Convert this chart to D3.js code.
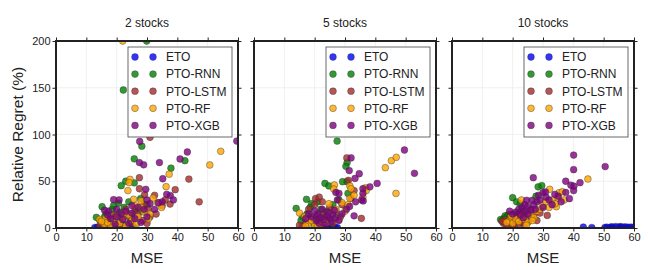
<!DOCTYPE html>
<html>
<head>
<meta charset="utf-8">
<script src="https://cdn.jsdelivr.net/npm/d3@7"></script>
<style>
    body { margin: 0; background: #fff; }
    svg text { font-family: Arial, "Liberation Sans", sans-serif; }
</style>
</head>
<body>
<div id="chart"></div>
<script>
(function( w ) {

"use strict";

/* ---- data: [MSE, relative regret %] ---- */
var seriesNames = [ "ETO", "PTO-RNN", "PTO-LSTM", "PTO-RF", "PTO-XGB" ],
    panelTitles = [ "2 stocks", "5 stocks", "10 stocks" ],
    xTicks = [ 0, 10, 20, 30, 40, 50, 60 ],
    yTicks = [ 0, 50, 100, 150, 200 ],

    eto2  = [[12.8,0.5],[13.6,0.8],[14.4,0.3],[15.2,0.6],[20.5,0.6],[21.2,0.4],[22,0.8],[22.7,0.5],[23.4,0.6],[24.1,0.3],[24.8,0.7],[25.4,0.5],[25.9,0.4]],
    rnn2  = [[29.9,200],[22.2,147.6],[28.3,87.5],[25.8,74],[42.5,72],[37.9,64],[23,50],[21.5,45.3],[25.8,48.3],[27.9,31.5],[20.6,26.5],[15.2,22.8],[13.3,11.4],[18.5,20],[16.5,15],[19.5,12],[21,17],[22.5,22],[24,28],[17,9],[14.5,8],[23.5,14],[26.5,20],[20,8],[18,5],[25,11],[28.5,18],[22,4],[16,12],[19,24],[24.5,6],[30,25]],
    lstm2 = [[31,97],[27.5,53.8],[43.8,52.3],[47.2,28],[39.3,41],[37.6,25.6],[27.5,42],[29.2,35.6],[30.4,20],[32.5,35],[36,30],[33,15],[28.5,8],[25,5],[22,3],[20,2],[18,6],[16,3],[24,12],[26,18],[21,10],[29,25],[31,12],[19,14],[23,20],[27,14],[14.5,2],[17,1],[35,24],[30,5]],
    rf2   = [[22,200],[54.3,82],[50.7,67.4],[37.3,57.6],[24.4,52],[24.1,48.6],[23.7,40],[25.6,30.7],[36.3,44.2],[34.8,22],[33.5,27],[31,15],[32,32],[28,22],[26,24],[24,14],[22,10],[20,6],[18,3],[16,4],[14.3,9.3],[16.3,10],[19,8],[21,5],[23,2],[25,8],[27,12],[29,17],[30.5,10],[17,6],[15,7],[20,12],[22.5,16],[26.5,4],[28,29]],
    xgb2  = [[27.6,92.5],[59.6,93],[27.5,70],[28.9,67.6],[34.1,70],[40.9,73.8],[43.3,81.3],[35.2,52.7],[38.7,30],[37.7,34.7],[29.6,41.4],[33.8,27],[19,30.3],[20.8,30],[16,19],[17.3,18],[20,20],[21.5,15],[23,18],[25,16],[27,22],[29,20],[31,26],[30,12],[26,10],[24,5],[22,9],[20,12],[18,10],[19.5,4],[28,6],[30,30],[32.5,20],[35,28],[36.5,36],[17,14],[25,24]],

    eto5  = [[20.8,0.5],[21.5,0.3],[22.3,0.5],[23,0.4],[23.8,0.6],[24.5,0.3],[25.2,0.5],[26,0.4],[26.8,0.6],[27.5,0.3]],
    rnn5  = [[27.4,93],[30.7,70],[30.3,66],[29.2,49.5],[30.7,49.5],[23.4,47.7],[24.7,45],[17.3,30.7],[13.9,21],[28,30],[31,37],[19,26],[21,28],[18.5,22],[22,20],[16,12],[20,10],[17.5,15],[24,18],[26,25],[15.5,8],[23,12],[19.5,5],[21.5,7]],
    lstm5 = [[30.6,75],[31.1,51],[35.4,10.3],[20.3,31.5],[21.5,33],[22.5,28],[18,20],[15,3],[17,5],[19,10],[23,15],[25,22],[27,18],[24,8],[21,13],[29,25],[32,32],[20,25],[26,5],[16,1.5],[22,2],[33,40],[28.5,12]],
    rf5   = [[43.3,64.5],[45.3,72],[46.9,75.6],[46.8,37],[36.7,43],[26.5,46],[26.3,41.7],[24.7,26],[31.6,31.7],[31,25],[35.9,33],[31.6,45],[32,42],[33,35],[37,40],[15,16],[16.7,12.5],[18,5],[20,3],[22,4],[19,8],[17,2],[23,10],[25,14],[27,20],[29,27],[30,18],[24,6],[21,1.5],[28,9]],
    xgb5  = [[32,75],[31.4,61.4],[34.7,58],[33.3,53],[49.6,83.4],[52.9,58.5],[40.6,47.7],[38.2,44],[35.9,42],[35.9,37],[35.5,30],[36,29],[27,38],[28,37],[27.5,30],[30.5,20],[31.5,23],[33,13],[20,18],[21,15],[22,11],[23,9],[24,13],[25,10],[26,14],[27,11],[28,8],[19,12],[18,15],[22.5,20],[24.5,17],[26.5,19],[29,15],[21.5,5],[23.5,3],[25.5,7],[33.5,28],[20.5,8],[17,10]],

    eto10  = [[43.3,1],[46.1,0.5],[50.4,0.5],[51,0.8],[52,0.5],[52.5,1.2],[53,1],[54,1.5],[55,0.8],[55.5,1.5],[56,1],[57,1.2],[57.5,0.5],[58,0.8],[59,1],[59.7,0.6]],
    rnn10  = [[29.6,45.3],[28.4,44],[27.7,34],[20,32.4],[21.3,28],[22.5,26],[18,12],[17,10],[16.5,8],[17.5,13],[18.5,14],[19,11],[20,13],[21,12],[17,7],[19.5,9],[16,9],[18,8],[22,15],[20.5,10],[23,18]],
    lstm10 = [[31.4,13.5],[17,5],[18,3],[19,6],[20,4],[18.5,1],[21,8],[22,3],[23,6],[24,4],[25,7],[26,10],[17.5,9],[16.5,7],[19.5,10],[20.5,1.5],[22.5,9],[24.5,12],[27,14],[28,8],[29,16],[21.5,14],[23.5,17],[26,20]],
    rf10   = [[44.8,52.4],[32.2,41.4],[35.3,37.7],[36.4,38.8],[34.4,22.8],[22.9,30],[19,8],[20,5],[21,10],[22,7],[23,12],[24,9],[25,6],[26,14],[27,11],[28,18],[29,20],[30,24],[31,28],[33,30],[34,26],[35,32],[19.5,13],[18,6],[24.5,3],[26.5,8],[37,30],[32,22]],
    xgb10  = [[40.1,78],[40.1,62.4],[50.5,65.7],[42.2,48.5],[37.5,50],[39.2,45.7],[40.2,44.7],[26.8,53.8],[30,37.7],[30.8,38.5],[33.9,36],[40.1,40],[38.7,31.4],[24.6,29.6],[26.4,29.6],[22,20],[23,22],[24,18],[25,23],[26,19],[27,25],[28,28],[29,30],[31,33],[32,30],[33,25],[35,34],[36,28],[21,17],[22.5,14],[25,15],[27.5,20],[30,22],[24,25],[28.5,35],[37.5,38],[20,15],[19,18],[23.5,11]],

    panels = [
        [ eto2,  rnn2,  lstm2,  rf2,  xgb2  ],
        [ eto5,  rnn5,  lstm5,  rf5,  xgb5  ],
        [ eto10, rnn10, lstm10, rf10, xgb10 ]
    ],

    /* ---- settings ---- */
    _d = {
        width : 648, height : 270,
        lefts : [ 56, 254, 452 ],
        top : 41, pw : 182, ph : 187,
        colors : [ "#0000ff", "#008000", "#a52a2a", "#ffa500", "#800080" ],
        r : 3.4,
        tick : 3.5
    },

    svg = d3.select("#chart").append("svg")
        .attr("width", _d.width)
        .attr("height", _d.height),

    x = d3.scaleLinear().domain([ 0, 60 ]).range([ 0, _d.pw ]),
    y = d3.scaleLinear().domain([ 0, 200 ]).range([ _d.ph, 0 ]);

/* styleAxis
 * thin ticks, no domain line (the frame draws that)
*/
function styleAxis( g ) {
    g.select(".domain").remove();
    g.selectAll(".tick line").attr("stroke", "#222").attr("stroke-width", 1);
    g.selectAll(".tick text").attr("fill", "#222").style("font-size", "11px");
}

panels.forEach(function( series, p ) {
    var g = svg.append("g")
            .attr("transform", "translate(" + _d.lefts[p] + "," + _d.top + ")"),
        clipId = "clip" + p;

    g.append("clipPath").attr("id", clipId)
        .append("rect").attr("width", _d.pw).attr("height", _d.ph);

    /* grid */
    g.append("g").selectAll("line").data(xTicks).join("line")
        .attr("x1", x).attr("x2", x).attr("y1", 0).attr("y2", _d.ph)
        .attr("stroke", "#ececec").attr("stroke-width", 0.8);
    g.append("g").selectAll("line").data(yTicks).join("line")
        .attr("y1", y).attr("y2", y).attr("x1", 0).attr("x2", _d.pw)
        .attr("stroke", "#ececec").attr("stroke-width", 0.8);

    /* points, ETO first so XGB ends up on top */
    var pts = g.append("g").attr("clip-path", "url(#" + clipId + ")");
    series.forEach(function( data, s ) {
        pts.append("g").selectAll("circle").data(data).join("circle")
            .attr("cx", function( d ){ return x(d[0]); })
            .attr("cy", function( d ){ return y(d[1]); })
            .attr("r", _d.r)
            .attr("fill", _d.colors[s])
            .attr("fill-opacity", 0.8)
            .attr("stroke", "#333")
            .attr("stroke-opacity", 0.8)
            .attr("stroke-width", 0.5);
    });

    /* axes on all four sides, ticks outward */
    g.append("g").attr("transform", "translate(0," + _d.ph + ")")
        .call(d3.axisBottom(x).tickValues(xTicks).tickSize(_d.tick).tickPadding(2).tickSizeOuter(0))
        .call(styleAxis);
    g.append("g")
        .call(d3.axisTop(x).tickValues(xTicks).tickSize(_d.tick).tickFormat("").tickSizeOuter(0))
        .call(styleAxis);
    g.append("g")
        .call(d3.axisLeft(y).tickValues(yTicks).tickSize(_d.tick).tickPadding(2).tickSizeOuter(0)
            .tickFormat(p === 0 ? d3.format("d") : ""))
        .call(styleAxis);
    g.append("g").attr("transform", "translate(" + _d.pw + ",0)")
        .call(d3.axisRight(y).tickValues(yTicks).tickSize(_d.tick).tickFormat("").tickSizeOuter(0))
        .call(styleAxis);

    /* frame */
    g.append("rect")
        .attr("width", _d.pw).attr("height", _d.ph)
        .attr("fill", "none").attr("stroke", "#222").attr("stroke-width", 2);

    /* title */
    g.append("text")
        .attr("x", _d.pw / 2).attr("y", -14)
        .attr("text-anchor", "middle")
        .style("font-size", "12px").attr("fill", "#222")
        .text(panelTitles[p]);

    /* x label */
    g.append("text")
        .attr("x", _d.pw / 2).attr("y", _d.ph + 35)
        .attr("text-anchor", "middle")
        .style("font-size", "15px").attr("fill", "#222")
        .text("MSE");

    /* legend */
    var lg = g.append("g").attr("transform", "translate(" + (_d.pw - 110) + ",6)");
    lg.append("rect")
        .attr("width", 104).attr("height", 90)
        .attr("fill", "#fff").attr("stroke", "#444").attr("stroke-width", 0.8);
    seriesNames.forEach(function( name, s ) {
        var row = lg.append("g").attr("transform", "translate(0," + (10 + s * 17.1) + ")");
        [ 7, 25 ].forEach(function( cx ) {
            row.append("circle")
                .attr("cx", cx).attr("cy", 0).attr("r", _d.r)
                .attr("fill", _d.colors[s]).attr("fill-opacity", 0.8)
                .attr("stroke", "#333").attr("stroke-opacity", 0.8).attr("stroke-width", 0.5);
        });
        row.append("text")
            .attr("x", 38).attr("y", 4.3)
            .style("font-size", "12px").attr("fill", "#222")
            .text(name);
    });
});

/* y label */
svg.append("text")
    .attr("transform", "translate(23," + (_d.top + _d.ph / 2) + ") rotate(-90)")
    .attr("text-anchor", "middle")
    .style("font-size", "15.5px").attr("fill", "#222")
    .text("Relative Regret (%)");

})( window );
</script>
</body>
</html>
